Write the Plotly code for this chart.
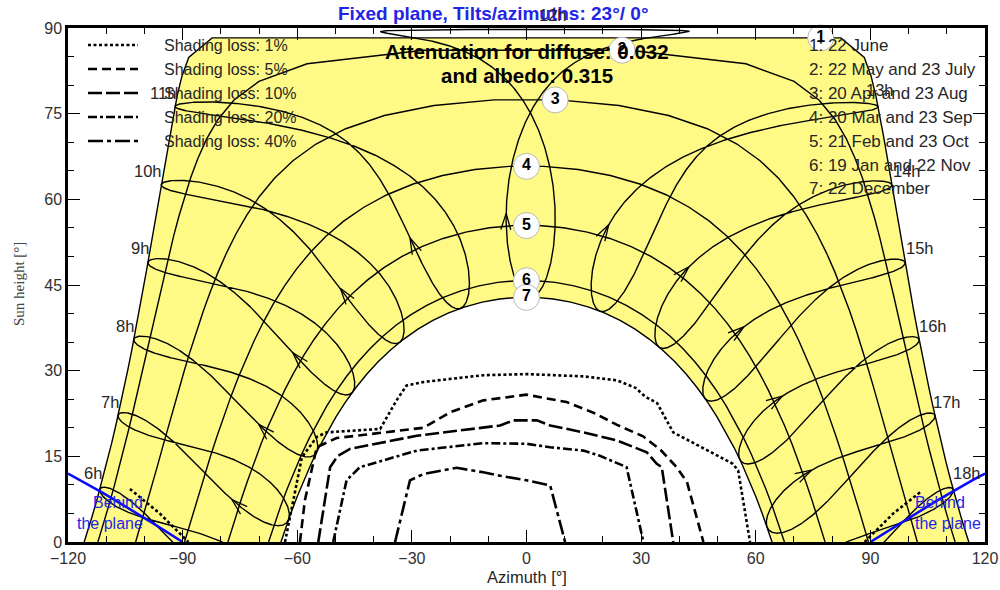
import numpy as np
import plotly.graph_objects as go

# ---------------- site / plane ----------------
LATITUDE = 23.7               # degrees north
LON_MINUS_TZ_MERIDIAN = 0.42  # degrees east of the time-zone meridian
PLANE_TILT = 23.0
PLANE_AZIMUTH = 0.0

# ---------------- date curves ----------------
DATE_NAMES = ["1: 22 June", "2: 22 May and 23 July", "3: 20 Apr and 23 Aug",
              "4: 20 Mar and 23 Sep", "5: 21 Feb and 23 Oct",
              "6: 19 Jan and 22 Nov", "7: 22 December"]
DATE_DOY = [173, 142, 110, 79, 52, 19, 356]
DATE_TAG_AZ = [77.0, 25.0, 7.5, 0.0, 0.0, 0.0, 0.0]
PATH_STEP_MIN = 15.0          # time step of the day curves (solar time, centred on noon)

# ---------------- hour lines (legal time) ----------------
HOURS = [6, 7, 8, 9, 10, 11, 12, 13, 14, 15, 16, 17, 18]
HOUR_TAG_AZ = [-113.5, -109.0, -105.1, -101.2, -99.1, -95.1, 6.9,
               92.5, 99.6, 103.0, 106.4, 110.1, 115.3]
HOUR_TAG_H = [12.0, 24.6, 37.9, 51.4, 65.0, 78.7, 92.2,
              79.1, 65.0, 51.4, 37.9, 24.6, 12.0]
ARROW_DOY = 58

# ---------------- shading loss iso-lines ----------------
LOSS_NAMES = ["Shading loss: 1%", "Shading loss: 5%", "Shading loss: 10%",
              "Shading loss: 20%", "Shading loss: 40%"]
LOSS_DASH = ["3px,2.5px", "9px,5px", "14px,4px", "9px,3px,3px,3px", "15px,4px,4px,4px"]

LOSS_1_AZ = [-63.2, -60.6, -58.8, -54.9, -52.3, -38.3, -34.0, -31.4, -27.1, -11.4, 0.0,
             15.0, 23.7, 28.5, 31.0, 34.2, 38.4, 54.0, 55.4, 58.5]
LOSS_1_H = [0.0, 9.0, 14.8, 18.4, 19.2, 19.8, 24.8, 27.4, 28.0, 29.2, 29.4,
            29.0, 28.3, 27.0, 25.5, 24.3, 19.2, 13.7, 12.5, 0.0]
LOSS_5_AZ = [-59.3, -58.0, -54.9, -49.7, -27.0, -20.0, -11.3, 0.0, 10.5, 18.0,
             23.7, 30.5, 35.0, 39.3, 42.0, 46.3]
LOSS_5_H = [0.0, 7.3, 16.6, 18.2, 20.0, 22.7, 24.8, 25.8, 24.5, 22.5,
            20.5, 18.5, 16.2, 13.1, 10.5, 0.0]
LOSS_10_AZ = [-54.5, -51.4, -49.5, -46.2, -28.7, -11.3, -6.9, -3.4, 2.7, 6.2,
              14.9, 23.6, 31.5, 34.1, 35.4, 38.4]
LOSS_10_H = [0.0, 13.1, 15.0, 16.3, 18.6, 20.0, 20.4, 21.3, 21.3, 20.4,
             19.2, 17.8, 15.7, 13.7, 13.1, 0.0]
LOSS_20_AZ = [-50.6, -47.1, -43.6, -28.7, -11.3, 0.0, 6.2, 14.9, 19.2, 26.2, 30.6]
LOSS_20_H = [0.0, 10.8, 13.1, 16.0, 17.3, 17.2, 16.6, 16.0, 15.1, 13.1, 0.0]
LOSS_40_AZ = [-34.4, -30.5, -27.0, -18.3, -11.3, -6.9, 0.0, 6.2, 10.1]
LOSS_40_H = [0.0, 10.8, 11.9, 13.0, 12.2, 11.6, 10.8, 9.9, 0.0]

# 1% iso-line pieces next to the "behind the plane" limits
LOSS_1_WEST_AZ = [-103.8, -96.0, -88.5]
LOSS_1_WEST_H = [9.3, 5.0, 0.0]
LOSS_1_EAST_AZ = [103.0, 96.0, 88.5]
LOSS_1_EAST_H = [8.7, 5.0, 0.0]

# ---------------- figure geometry ----------------
W, H = 1000, 590
M_L, M_R, M_T, M_B = 68, 15, 28, 48
PW, PH = W - M_L - M_R, H - M_T - M_B
X_RANGE = (-120, 120)
Y_RANGE = (0, 90)
SX = PW / (X_RANGE[1] - X_RANGE[0])   # px per degree azimuth
SY = PH / (Y_RANGE[1] - Y_RANGE[0])   # px per degree height

FONT = "Arial, Liberation Sans, sans-serif"
INK = "#262626"
BLUE = "#2424e6"
YELLOW = "#fffa86"


# ---------------- solar geometry ----------------
def declination(n):
    g = 2 * np.pi * (np.asarray(n, float) - 1) / 365.0
    return np.degrees(0.006918 - 0.399912 * np.cos(g) + 0.070257 * np.sin(g)
                      - 0.006758 * np.cos(2 * g) + 0.000907 * np.sin(2 * g)
                      - 0.002697 * np.cos(3 * g) + 0.00148 * np.sin(3 * g))


def equation_of_time(n):
    g = 2 * np.pi * (np.asarray(n, float) - 1) / 365.0
    return 229.18 * (0.000075 + 0.001868 * np.cos(g) - 0.032077 * np.sin(g)
                     - 0.014615 * np.cos(2 * g) - 0.040849 * np.sin(2 * g))


def horizontal_coords(dec_deg, ha_deg):
    """Azimuth (south = 0, west positive) and height, degrees."""
    dec, ha = np.radians(dec_deg), np.radians(ha_deg)
    lat = np.radians(LATITUDE)
    sin_h = np.sin(lat) * np.sin(dec) + np.cos(lat) * np.cos(dec) * np.cos(ha)
    h = np.arcsin(np.clip(sin_h, -1, 1))
    az = np.arctan2(np.sin(ha) * np.cos(dec),
                    np.cos(ha) * np.cos(dec) * np.sin(lat) - np.sin(dec) * np.cos(lat))
    return np.degrees(az), np.degrees(h)


def sun_position(n, legal_hour):
    solar = legal_hour + (4 * LON_MINUS_TZ_MERIDIAN + equation_of_time(n)) / 60.0
    return horizontal_coords(declination(n), 15.0 * (solar - 12.0))


def day_path(n):
    dec = float(declination(n))
    lat = np.radians(LATITUDE)
    w0 = np.degrees(np.arccos(-np.tan(lat) * np.tan(np.radians(dec))))
    step = PATH_STEP_MIN / 4.0                      # degrees of hour angle
    k = np.arange(-60, 60)
    grid = (k + 0.5) * step
    grid = grid[np.abs(grid) < w0]
    ha = np.concatenate([[-w0], grid, [w0]])
    return horizontal_coords(dec, ha)


fig = go.Figure()

# area swept by the sun over the year
az_jun, h_jun = day_path(DATE_DOY[0])
az_dec, h_dec = day_path(DATE_DOY[-1])
fig.add_trace(go.Scatter(
    x=np.concatenate([az_jun, az_dec[::-1]]),
    y=np.concatenate([h_jun, h_dec[::-1]]),
    fill="toself", fillcolor=YELLOW, mode="lines",
    line=dict(width=0), hoverinfo="skip", showlegend=False))

# date curves
tag_x, tag_y, tag_t = [], [], []
for k, n in enumerate(DATE_DOY):
    az, h = day_path(n)
    fig.add_trace(go.Scatter(x=az, y=h, mode="lines",
                             line=dict(color="black", width=1.4),
                             hoverinfo="skip", showlegend=False))
    tag_x.append(DATE_TAG_AZ[k])
    tag_y.append(float(np.interp(DATE_TAG_AZ[k], az, h)))
    tag_t.append(str(k + 1))

# hour lines over the whole year
days = np.arange(0.0, 366.0, 0.5)
for hr in HOURS:
    az, h = sun_position(days, np.full_like(days, hr))
    fig.add_trace(go.Scatter(x=az, y=h, mode="lines",
                             line=dict(color="black", width=1.4),
                             hoverinfo="skip", showlegend=False))

# direction arrows along the hour lines
ARROW_LEN = 17.0
ARROW_HALF_ANGLE = np.radians(17)
ax_pts, ay_pts = [], []
for hr in HOURS:
    a0, h0 = sun_position(ARROW_DOY, hr)
    a1, h1 = sun_position(ARROW_DOY + 1, hr)
    if h0 <= 1.0:
        continue
    dx, dy = (a1 - a0) * SX, (h1 - h0) * SY
    norm = np.hypot(dx, dy)
    ux, uy = dx / norm, dy / norm
    for s in (1, -1):
        c, sn = np.cos(s * ARROW_HALF_ANGLE), np.sin(s * ARROW_HALF_ANGLE)
        bx = -(ux * c - uy * sn) * ARROW_LEN
        by = -(ux * sn + uy * c) * ARROW_LEN
        ax_pts += [float(a0), float(a0 + bx / SX), None]
        ay_pts += [float(h0), float(h0 + by / SY), None]
fig.add_trace(go.Scatter(x=ax_pts, y=ay_pts, mode="lines",
                         line=dict(color="black", width=1.3),
                         hoverinfo="skip", showlegend=False))

# "behind the plane" limits (incidence angle = 90 deg)
for lo, hi in ((-120, -90), (90, 120)):
    az = np.linspace(lo, hi, 31)
    hb = np.degrees(np.arctan(-np.tan(np.radians(PLANE_TILT))
                              * np.cos(np.radians(az - PLANE_AZIMUTH))))
    fig.add_trace(go.Scatter(x=az, y=hb, mode="lines",
                             line=dict(color="#0a0aff", width=2.6),
                             hoverinfo="skip", showlegend=False))

# shading loss iso-lines
loss_sets = [(LOSS_1_AZ, LOSS_1_H), (LOSS_5_AZ, LOSS_5_H), (LOSS_10_AZ, LOSS_10_H),
             (LOSS_20_AZ, LOSS_20_H), (LOSS_40_AZ, LOSS_40_H)]
for (xs, ys), dash in zip(loss_sets, LOSS_DASH):
    fig.add_trace(go.Scatter(x=xs, y=ys, mode="lines",
                             line=dict(color="black", width=2.6, dash=dash),
                             hoverinfo="skip", showlegend=False))
for xs, ys in ((LOSS_1_WEST_AZ, LOSS_1_WEST_H), (LOSS_1_EAST_AZ, LOSS_1_EAST_H)):
    fig.add_trace(go.Scatter(x=xs, y=ys, mode="lines",
                             line=dict(color="black", width=2.6, dash=LOSS_DASH[0]),
                             hoverinfo="skip", showlegend=False))

# numbered tags on the date curves
fig.add_trace(go.Scatter(
    x=tag_x, y=tag_y, mode="markers+text", text=tag_t,
    textposition="middle center",
    textfont=dict(family=FONT, size=16, color="black", weight="bold"),
    marker=dict(size=26, color="white", line=dict(color="#b8b8b8", width=1)),
    cliponaxis=False, hoverinfo="skip", showlegend=False))

annotations = []


def note(x, y, text, size, color=INK, xanchor="center", **kw):
    annotations.append(dict(x=x, y=y, xref="paper", yref="paper", text=text, showarrow=False,
                            xanchor=xanchor, yanchor="middle",
                            font=dict(family=kw.pop("family", FONT), size=size, color=color),
                            **kw))


def px_to_paper(px, py):
    return (px - M_L) / PW, (H - M_B - py) / PH


def data_to_paper(az, h):
    return ((az - X_RANGE[0]) / (X_RANGE[1] - X_RANGE[0]),
            (h - Y_RANGE[0]) / (Y_RANGE[1] - Y_RANGE[0]))


# "behind the plane" captions
annotations.append(dict(x=-99.9, y=5.1, xref="x", yref="y", text="Behind<br>the plane",
                        xanchor="right", yanchor="middle", align="right", showarrow=False,
                        font=dict(family=FONT, size=16, color=BLUE)))
annotations.append(dict(x=101.2, y=5.1, xref="x", yref="y", text="Behind<br>the plane",
                        xanchor="left", yanchor="middle", align="left", showarrow=False,
                        font=dict(family=FONT, size=16, color=BLUE)))

# shading legend (top left)
shapes = []
for k, (name, dash) in enumerate(zip(LOSS_NAMES, LOSS_DASH)):
    row_y = 45 + 24 * k
    x0, yy = px_to_paper(88, row_y)
    x1, _ = px_to_paper(138, row_y)
    shapes.append(dict(type="line", xref="paper", yref="paper", x0=x0, x1=x1, y0=yy, y1=yy,
                       line=dict(color="black", width=2.6, dash=dash)))
    tx, ty = px_to_paper(162, row_y)
    note(tx, ty, name, 16, xanchor="left")

# date legend (top right)
for k, name in enumerate(DATE_NAMES):
    tx, ty = px_to_paper(807, 46 + 23.8 * k)
    note(tx, ty, name, 17, xanchor="left")

# attenuation note
for text, py in (("Attenuation for diffuse: 0.032", 52), ("and albedo: 0.315", 75)):
    tx, ty = px_to_paper(527, py)
    note(tx, ty, f"<b>{text}</b>", 20.5, color="black")

# title and axis titles
tx, ty = px_to_paper(493, 13)
note(tx, ty, "<b>Fixed plane, Tilts/azimuths: 23°/ 0°</b>", 19, color=BLUE)
tx, ty = px_to_paper(527, 577)
note(tx, ty, "Azimuth [°]", 16.5)
tx, ty = px_to_paper(19, 284)
note(tx, ty, "Sun height [°]", 15, color="#444444", textangle=-90,
     family="Times New Roman, Liberation Serif, serif")

# hour labels (paper-referenced so the 12h label above the frame stays visible)
for hr, xa, ya in zip(HOURS, HOUR_TAG_AZ, HOUR_TAG_H):
    tx, ty = data_to_paper(xa, ya)
    note(tx, ty, f"{hr}h", 16.5)

axis_common = dict(showgrid=False, zeroline=False, showline=True, linecolor="black",
                   linewidth=2.5, mirror="ticks", ticks="inside", ticklen=12,
                   tickwidth=1.4, tickcolor="black", automargin=False,
                   tickfont=dict(family=FONT, size=16, color="#303030"))

fig.update_layout(
    width=W, height=H, margin=dict(l=M_L, r=M_R, t=M_T, b=M_B, autoexpand=False),
    paper_bgcolor="white", plot_bgcolor="white",
    xaxis=dict(range=list(X_RANGE), tickvals=list(range(-120, 121, 30)),
               minor=dict(dtick=10, ticks="inside", ticklen=6, tickcolor="black"),
               **axis_common),
    yaxis=dict(range=list(Y_RANGE), tickvals=list(range(0, 91, 15)),
               minor=dict(dtick=5, ticks="inside", ticklen=6, tickcolor="black"),
               **axis_common),
    shapes=shapes, annotations=annotations, showlegend=False)

fig.write_html("out.html")
